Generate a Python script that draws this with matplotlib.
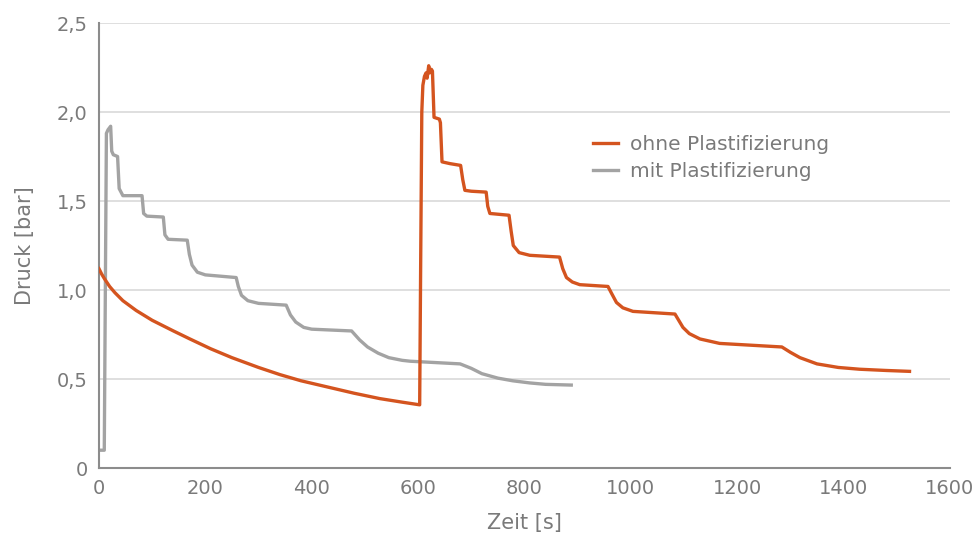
import matplotlib.pyplot as plt
from matplotlib.ticker import FuncFormatter

# data
t_ohne = [0, 5, 10, 20, 30, 45, 70, 100, 140, 171, 210, 250, 300, 340, 380, 430, 480, 528, 570, 603,
          605, 607, 609, 612, 615, 617, 620, 622, 625, 627, 630, 640, 642, 645,
          660, 680, 684, 688, 700, 728, 731, 735, 771, 775, 779, 790, 810, 866,
          872, 879, 890, 904, 957, 964, 973, 985, 1004, 1083, 1090, 1098, 1110,
          1130, 1167, 1284, 1300, 1318, 1350, 1390, 1430, 1480, 1524]
p_ohne = [1.12, 1.09, 1.065, 1.02, 0.985, 0.94, 0.885, 0.83, 0.77, 0.725, 0.67, 0.62, 0.565, 0.525, 0.49, 0.455, 0.42, 0.39, 0.37, 0.355,
          1.2, 2.0, 2.15, 2.2, 2.22, 2.19, 2.26, 2.22, 2.24, 2.23, 1.97, 1.96, 1.94, 1.72,
          1.71, 1.70, 1.62, 1.56, 1.555, 1.55, 1.47, 1.43, 1.42, 1.33, 1.25, 1.21, 1.195, 1.185,
          1.12, 1.07, 1.045, 1.03, 1.02, 0.98, 0.93, 0.90, 0.88, 0.865, 0.83, 0.79, 0.755,
          0.725, 0.70, 0.68, 0.65, 0.62, 0.585, 0.565, 0.555, 0.548, 0.543]

t_mit = [0, 10, 12, 14, 17, 22, 24, 27, 35, 38, 45, 81, 84, 90, 121, 124, 130, 166,
         170, 175, 185, 200, 258, 262, 268, 280, 300, 352, 360, 370, 385, 400, 475,
         490, 505, 525, 545, 570, 585, 679, 700, 720, 750, 778, 810, 840, 888]
p_mit = [0.1, 0.1, 1.0, 1.88, 1.9, 1.92, 1.78, 1.76, 1.75, 1.57, 1.53, 1.53, 1.43, 1.415, 1.41, 1.31, 1.285, 1.28,
         1.2, 1.14, 1.10, 1.085, 1.07, 1.02, 0.97, 0.94, 0.925, 0.915, 0.86, 0.82, 0.79, 0.78, 0.77,
         0.72, 0.68, 0.645, 0.62, 0.605, 0.6, 0.585, 0.56, 0.53, 0.505, 0.49, 0.478, 0.47, 0.466]

orange = '#d4541f'
grey = '#a3a3a3'
text_col = '#7a7a7a'

fig = plt.figure(figsize=(9.74, 5.4), dpi=100)
ax = fig.add_axes([0.1016, 0.1333, 0.8737, 0.8241])

ax.plot(t_ohne, p_ohne, color=orange, lw=2.4, label='ohne Plastifizierung', zorder=3)
ax.plot(t_mit, p_mit, color=grey, lw=2.4, label='mit Plastifizierung', zorder=2)

ax.set_xlim(0, 1600)
ax.set_ylim(0, 2.5)
ax.set_xticks(range(0, 1601, 200))
ax.set_yticks([0, 0.5, 1.0, 1.5, 2.0, 2.5])
ax.yaxis.set_major_formatter(FuncFormatter(lambda v, p: '0' if v == 0 else f'{v:.1f}'.replace('.', ',')))

ax.grid(axis='y', color='#d9d9d9', lw=1.2)
ax.set_axisbelow(True)
for s in ['top', 'right']:
    ax.spines[s].set_visible(False)
for s in ['left', 'bottom']:
    ax.spines[s].set_color('#8c8c8c')
    ax.spines[s].set_linewidth(1.5)
ax.tick_params(length=0, labelsize=14, labelcolor=text_col, pad=8)

ax.set_xlabel('Zeit [s]', fontsize=15, color=text_col, labelpad=11)
ax.set_ylabel('Druck [bar]', fontsize=15, color=text_col, labelpad=16)

leg = ax.legend(loc='upper left', bbox_to_anchor=(0.559, 0.79), frameon=False,
                fontsize=14.5, handlelength=1.25, handletextpad=0.6, labelspacing=0.4)
for txt in leg.get_texts():
    txt.set_color(text_col)

plt.savefig('out.png', dpi=100)
